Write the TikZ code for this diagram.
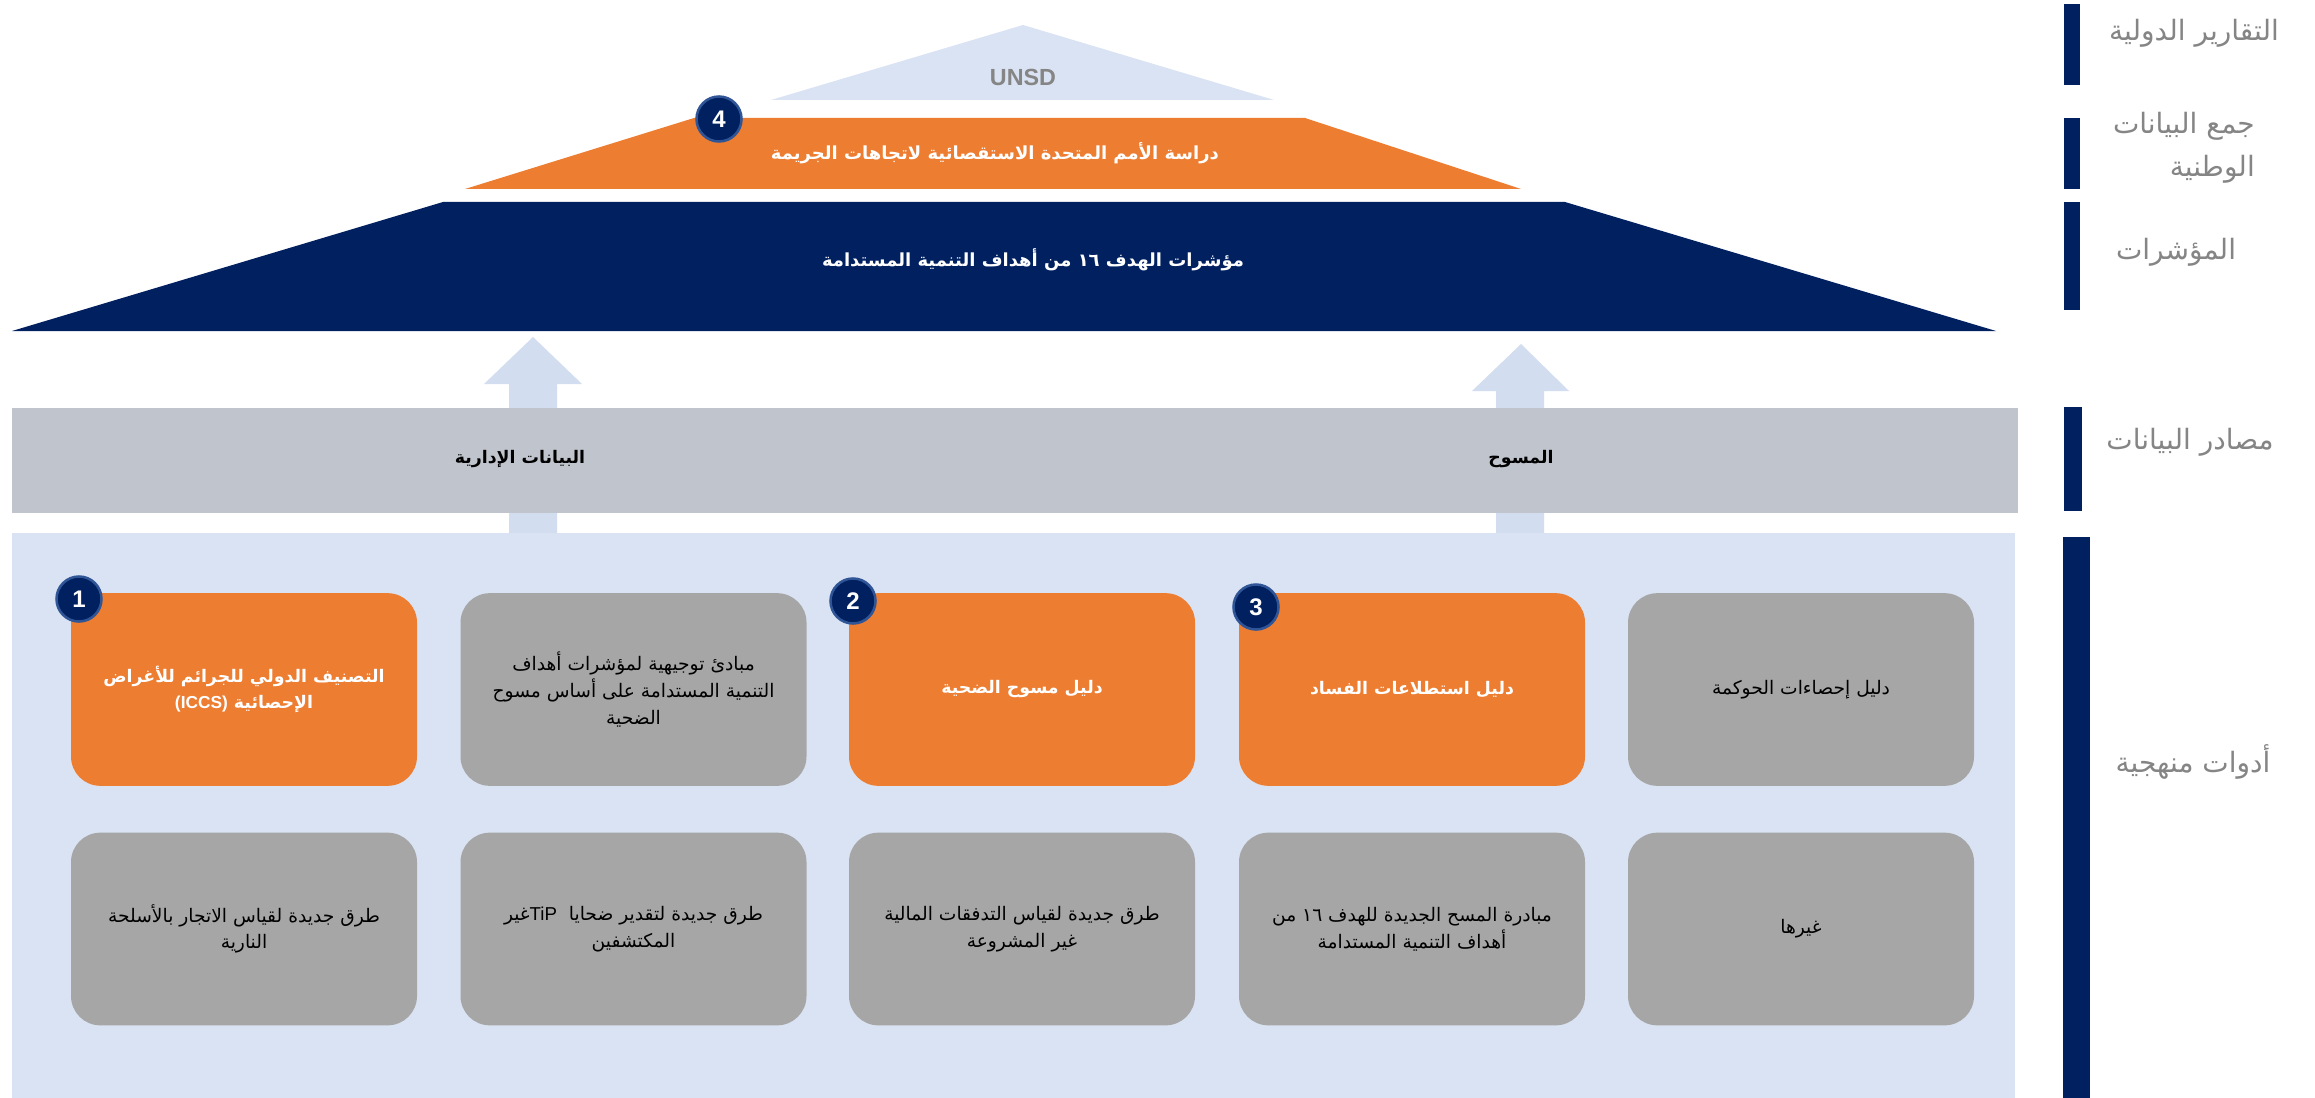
\documentclass[tikz,border=0pt]{standalone}
\usepackage{fontspec}
\setmainfont{Liberation Sans}
\newfontfamily\arfont[Script=Arabic]{DejaVu Sans}
\TeXXeTstate=1
\definecolor{navyc}{HTML}{002060}
\definecolor{orangec}{HTML}{ED7D31}
\definecolor{grayboxc}{HTML}{A6A6A6}
\definecolor{bandc}{HTML}{C0C4CC}
\definecolor{lightbg}{HTML}{DAE3F3}
\definecolor{arrowc}{HTML}{D2DDF0}
\definecolor{ringc}{HTML}{2F5597}
\definecolor{labelc}{HTML}{858585}
\newcommand{\artx}[1]{{\arfont\beginR #1\endR}}
\begin{document}
\begin{tikzpicture}[x=0.75pt,y=-0.75pt,
  boxbase/.style={rectangle,rounded corners=22pt,minimum width=259.5pt,minimum height=144.5pt,inner sep=4pt,align=center},
  orangebox/.style={boxbase,fill=orangec,text=white,font=\fontsize{13}{20}\selectfont\bfseries},
  graybox/.style={boxbase,fill=grayboxc,text=black,font=\fontsize{14}{20}\selectfont},
  numcirc/.style={circle,fill=navyc,draw=ringc,line width=1.9pt,minimum size=33.75pt,inner sep=0pt,text=white,font=\fontsize{18}{18}\selectfont\bfseries},
  sidelabel/.style={text=labelc,font=\fontsize{21}{32}\selectfont,inner sep=0pt},
  bandlabel/.style={text=black,font=\fontsize{13}{16}\selectfont\bfseries,inner sep=0pt},
  toplabel/.style={text=white,font=\fontsize{13.5}{16}\selectfont\bfseries,inner sep=0pt},
  sidebar/.style={fill=navyc}
]
\useasboundingbox (0,0) rectangle (2315,1098);
\fill[white] (0,0) rectangle (2315,1098);

% pyramid
\fill[lightbg] (1023,25) -- (1274,100) -- (771,100) -- cycle;
\fill[orangec] (694,118) -- (1305,118) -- (1521,189) -- (465,189) -- cycle;
\fill[navyc] (443,202) -- (1565,202) -- (1996,331) -- (12,331) -- cycle;
\node[text=labelc,font=\fontsize{17.5}{18}\selectfont\bfseries,inner sep=0pt] (unsd) at (1023,77) {UNSD};
\node[toplabel] (survey) at (995,153) {\artx{دراسة الأمم المتحدة الاستقصائية لاتجاهات الجريمة}};
\node[toplabel] (sdg) at (1033,260) {\artx{مؤشرات الهدف ١٦ من أهداف التنمية المستدامة}};

% background of tools
\fill[lightbg] (12,533) rectangle (2015,1098);

% up arrows
\fill[arrowc] (509,533) -- (509,384) -- (484,384) -- (533,337) -- (582,384) -- (557,384) -- (557,533) -- cycle;
\fill[arrowc] (1496,533) -- (1496,391) -- (1472,391) -- (1521,344) -- (1569,391) -- (1544,391) -- (1544,533) -- cycle;

% data sources band
\fill[bandc] (12,408) rectangle (2018,513);
\node[bandlabel] (admin) at (520,459) {\artx{البيانات الإدارية}};
\node[bandlabel] (surveys) at (1521,459) {\artx{المسوح}};

% row 1
\node[orangebox] (b1) at (244,689.5) {\artx{التصنيف الدولي للجرائم للأغراض}\\\artx{الإحصائية \beginL{\rmfamily (ICCS)}\endL}};
\node[graybox] (b2) at (633.5,689.5) {\artx{مبادئ توجيهية لمؤشرات أهداف}\\\artx{التنمية المستدامة على أساس مسوح}\\\artx{الضحية}};
\node[orangebox] (b3) at (1022,689.5) {\artx{دليل مسوح الضحية}};
\node[orangebox] (b4) at (1412,689.5) {\artx{دليل استطلاعات الفساد}};
\node[graybox] (b5) at (1801,689.5) {\artx{دليل إحصاءات الحوكمة}};

% row 2
\node[graybox] (c1) at (244,929) {\artx{طرق جديدة لقياس الاتجار بالأسلحة}\\\artx{النارية}};
\node[graybox] (c2) at (633.5,929) {\artx{طرق جديدة لتقدير ضحايا\ \ \beginL{\rmfamily TiP}\endL غير}\\\artx{المكتشفين}};
\node[graybox] (c3) at (1022,929) {\artx{طرق جديدة لقياس التدفقات المالية}\\\artx{غير المشروعة}};
\node[graybox] (c4) at (1412,929) {\artx{مبادرة المسح الجديدة للهدف ١٦ من}\\\artx{أهداف التنمية المستدامة}};
\node[graybox] (c5) at (1801,929) {\artx{غيرها}};

% number circles
\node[numcirc] (n1) at (79,599) {1};
\node[numcirc] (n2) at (853,601) {2};
\node[numcirc] (n3) at (1256,607) {3};
\node[numcirc] (n4) at (719,119) {4};

% right side bars
\fill[sidebar] (2064,4) rectangle (2080,85);
\fill[sidebar] (2064,118) rectangle (2080,189);
\fill[sidebar] (2064,202) rectangle (2080,310);
\fill[sidebar] (2064,407) rectangle (2082,511);
\fill[sidebar] (2063,537) rectangle (2090,1098);

% side labels
\node[sidelabel] (l1) at (2194,33) {\artx{التقارير الدولية}};
\node[sidelabel,anchor=east,align=right] (l2) at (2255,148) {\artx{جمع البيانات}\\\artx{الوطنية}};
\node[sidelabel] (l3) at (2176,252) {\artx{المؤشرات}};
\node[sidelabel] (l4) at (2190,442) {\artx{مصادر البيانات}};
\node[sidelabel] (l5) at (2193,762) {\artx{أدوات منهجية}};
\end{tikzpicture}
\end{document}
